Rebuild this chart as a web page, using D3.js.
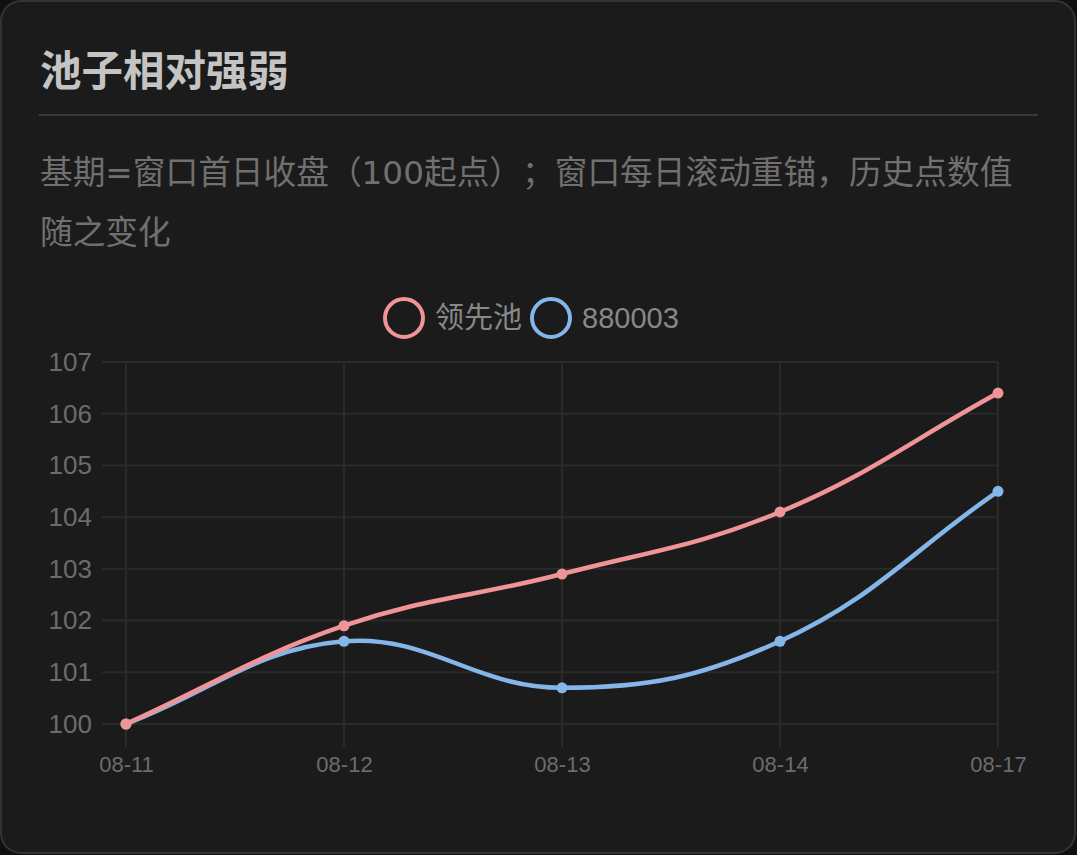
<!DOCTYPE html>
<html><head><meta charset="utf-8">
<script src="https://cdn.jsdelivr.net/npm/d3@7"></script>
<style>
html,body{margin:0;padding:0;background:#101010;}
svg{display:block;}
text{text-spacing-trim:space-all;}
</style></head>
<body>
<svg id="c" width="1077" height="855"></svg>
<script>
const categories = ["08-11","08-12","08-13","08-14","08-17"];
const leaderPool = [100, 101.9, 102.9, 104.1, 106.4];
const idx880003 = [100, 101.6, 100.7, 101.6, 104.5];
const yTicks = [100,101,102,103,104,105,106,107];
const seriesNames = ["领先池","880003"];
const seriesColors = ["#f09497","#84b6ea"];
const title = "池子相对强弱";
const subtitleLines = ["基期=窗口首日收盘（100起点）；窗口每日滚动重锚，历史点数值","随之变化"];

const svg = d3.select("#c");
const FONT = "'Liberation Sans','Noto Sans CJK SC',Arial,sans-serif";
const CJK = "'Noto Sans CJK SC','Liberation Sans',sans-serif";
const SUB = "'DejaVu Sans','Noto Sans CJK SC',sans-serif";

// card
svg.append("rect").attr("x",1).attr("y",1).attr("width",1074).attr("height",852)
  .attr("rx",20).attr("fill","#1b1b1b").attr("stroke","#333").attr("stroke-width",2);

svg.append("text").attr("x",40).attr("y",86).text(title)
  .attr("font-family",CJK).attr("font-weight","bold").attr("font-size",41.5).attr("fill","#c4c4c4");
svg.append("line").attr("x1",39).attr("x2",1038).attr("y1",115).attr("y2",115)
  .attr("stroke","#3a3a3a").attr("stroke-width",2);
subtitleLines.forEach((s,i)=>{
  svg.append("text").attr("x",40).attr("y",184+i*60).text(s)
    .attr("font-family",SUB).attr("font-size",32.7).attr("fill","#707070");
});

// scales
const x = d3.scalePoint().domain(categories).range([126,998]);
const y = d3.scaleLinear().domain([100,107]).range([724,362]);

const grid = svg.append("g");
grid.selectAll(".h").data(yTicks).join("line")
  .attr("x1",102).attr("x2",998).attr("y1",d=>y(d)).attr("y2",d=>y(d))
  .attr("stroke","#2a2a2a").attr("stroke-width",2);
grid.selectAll(".v").data(categories).join("line")
  .attr("x1",d=>x(d)).attr("x2",d=>x(d)).attr("y1",362).attr("y2",747)
  .attr("stroke","#2a2a2a").attr("stroke-width",2);

// axes labels via d3 axes
const yAxis = svg.append("g").attr("transform","translate(102,0)")
  .call(d3.axisLeft(y).tickValues(yTicks).tickFormat(d3.format("d")).tickSize(0).tickPadding(10));
yAxis.select(".domain").remove();
yAxis.selectAll("text").attr("font-family",FONT).attr("font-size",26).attr("fill","#6c6c6c");

const xAxis = svg.append("g").attr("transform","translate(0,747)")
  .call(d3.axisBottom(x).tickSize(0).tickPadding(9));
xAxis.select(".domain").remove();
xAxis.selectAll("text").attr("font-family",FONT).attr("font-size",22).attr("fill","#6c6c6c");

// Chart.js-like spline
function splinePath(vals){
  const pts = vals.map((v,i)=>({x:x(categories[i]), y:y(v)}));
  const t = 0.4;
  pts.forEach((cur,i)=>{
    const prev = pts[i-1]||cur, next = pts[i+1]||cur;
    const d01 = Math.hypot(cur.x-prev.x, cur.y-prev.y);
    const d12 = Math.hypot(next.x-cur.x, next.y-cur.y);
    let s01 = d01/(d01+d12), s12 = d12/(d01+d12);
    if(isNaN(s01)) s01=0; if(isNaN(s12)) s12=0;
    const fa=t*s01, fb=t*s12;
    cur.c1 = {x: cur.x-fa*(next.x-prev.x), y: cur.y-fa*(next.y-prev.y)};
    cur.c2 = {x: cur.x+fb*(next.x-prev.x), y: cur.y+fb*(next.y-prev.y)};
  });
  const p = d3.path();
  p.moveTo(pts[0].x, pts[0].y);
  for(let i=1;i<pts.length;i++){
    const a=pts[i-1], b=pts[i];
    p.bezierCurveTo(a.c2.x,a.c2.y,b.c1.x,b.c1.y,b.x,b.y);
  }
  return {d:p.toString(), pts};
}

[idx880003, leaderPool].forEach((vals,k)=>{
  const si = k===0?1:0;
  const {d,pts} = splinePath(vals);
  svg.append("path").attr("d",d).attr("fill","none")
    .attr("stroke",seriesColors[si]).attr("stroke-width",4.5).attr("stroke-linejoin","round");
  svg.append("g").selectAll("circle").data(vals).join("circle")
    .attr("cx",(d,i)=>x(categories[i])).attr("cy",d=>y(d)).attr("r",5.5)
    .attr("fill",seriesColors[si]);
});

// legend
const legendX = [404, 551];
seriesNames.forEach((n,i)=>{
  svg.append("circle").attr("cx",legendX[i]).attr("cy",318).attr("r",19)
    .attr("fill","#1b1b1b").attr("stroke",seriesColors[i]).attr("stroke-width",4);
  svg.append("text").attr("x",legendX[i]+31).attr("y",328).text(n)
    .attr("font-family",FONT).attr("font-size",29).attr("fill","#888");
});
</script>
</body></html>
